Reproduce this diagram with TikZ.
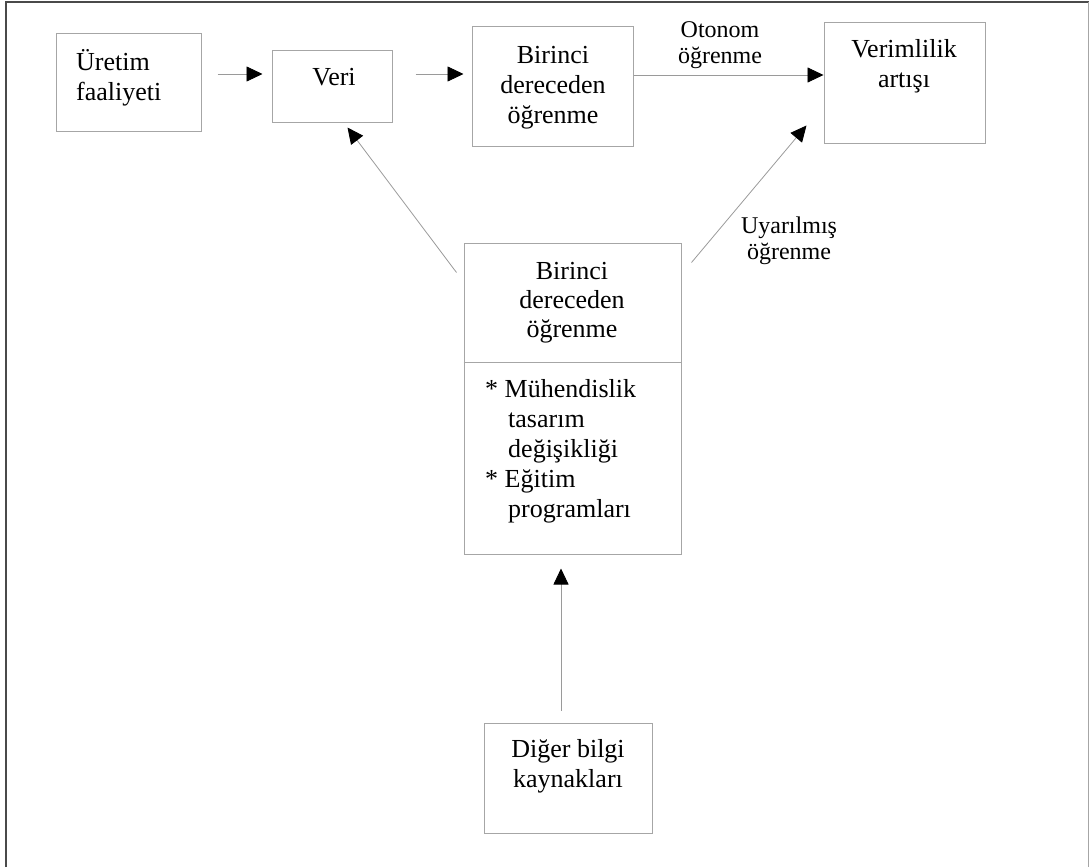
\documentclass[tikz,border=0pt]{standalone}
\usepackage{fontspec}
\setmainfont{Liberation Serif}
\usetikzlibrary{arrows.meta}
\definecolor{boxgray}{HTML}{A6A6A6}
\definecolor{linegray}{HTML}{9A9A9A}
\definecolor{framedark}{HTML}{4A4A4A}
\begin{document}
\begin{tikzpicture}[x=1pt,y=-1pt,
  box/.style={draw=boxgray, line width=1pt, rectangle, inner sep=0pt},
  txt/.style={font=\fontsize{26}{30}\selectfont, inner sep=0pt, anchor=north, align=center},
  lbl/.style={font=\fontsize{24}{26.5}\selectfont, inner sep=0pt, anchor=north, align=center},
  arr/.style={draw=linegray, line width=0.8pt, -{Triangle[length=16pt,width=15pt,color=black]}}
]
\useasboundingbox (0,0) rectangle (1089,867);
% outer frame
\draw[framedark, line width=2pt] (6,867) -- (6,2) -- (1089,2);
\draw[boxgray, line width=1pt] (1088,2) -- (1088,867);

% boxes
\node[box, minimum width=145pt, minimum height=97pt] (uret) at (128.5,82.5) {};
\node[box, minimum width=120pt, minimum height=71pt] (veri) at (332,86.5) {};
\node[box, minimum width=161pt, minimum height=119pt] (bir1) at (552.5,86.5) {};
\node[box, minimum width=161pt, minimum height=120pt] (verim) at (904.5,83) {};
\node[box, minimum width=217pt, minimum height=311pt] (mid) at (572.5,398.5) {};
\node[box, minimum width=168pt, minimum height=110pt] (diger) at (568,778) {};
\draw[boxgray, line width=1pt] (mid.west |- 0,362) -- (mid.east |- 0,362);

% texts
\node[txt, anchor=north west, align=left] (uret-t) at (76,49) {\strut Üretim\\faaliyeti};
\node[txt] (veri-t) at (334,64) {\strut Veri};
\node[txt] (bir1-t) at (553,42) {\strut Birinci\\dereceden\\öğrenme};
\node[txt] (verim-t) at (904,36) {\strut Verimlilik\\artışı};
\node[txt, font=\fontsize{26}{29}\selectfont] (mid-t) at (572,259) {\strut Birinci\\dereceden\\öğrenme};
\node[txt, anchor=north west, align=left] (mid-l) at (485,376)
  {\strut * Mühendislik\\\hspace*{23pt}tasarım\\\hspace*{23pt}değişikliği\\* Eğitim\\\hspace*{23pt}programları};
\node[txt] (diger-t) at (568,736) {\strut Diğer bilgi\\kaynakları};
\node[lbl] (oto) at (720,18.5) {\strut Otonom\\öğrenme};
\node[lbl] (uyar) at (789,214.5) {\strut Uyarılmış\\öğrenme};

% connectors
\draw[arr, shorten <=16pt, shorten >=9pt] (uret.east |- 0,74) -- (veri.west |- 0,74);
\draw[arr, shorten <=23pt, shorten >=8pt] (veri.east |- 0,74) -- (bir1.west |- 0,74);
\draw[arr] (bir1.east |- 0,75) -- (verim.west |- 0,75);
\draw[arr] ([shift={(-7,30)}]mid.north west) -- ([shift={(76,5)}]veri.south west);
\draw[arr] ([shift={(10,20)}]mid.north east) -- ([shift={(-17,-18)}]verim.south west);
\draw[arr] ([yshift=12pt]diger.north -| 561,0) -- ([yshift=-14pt]mid.south -| 561,0);
\end{tikzpicture}
\end{document}
